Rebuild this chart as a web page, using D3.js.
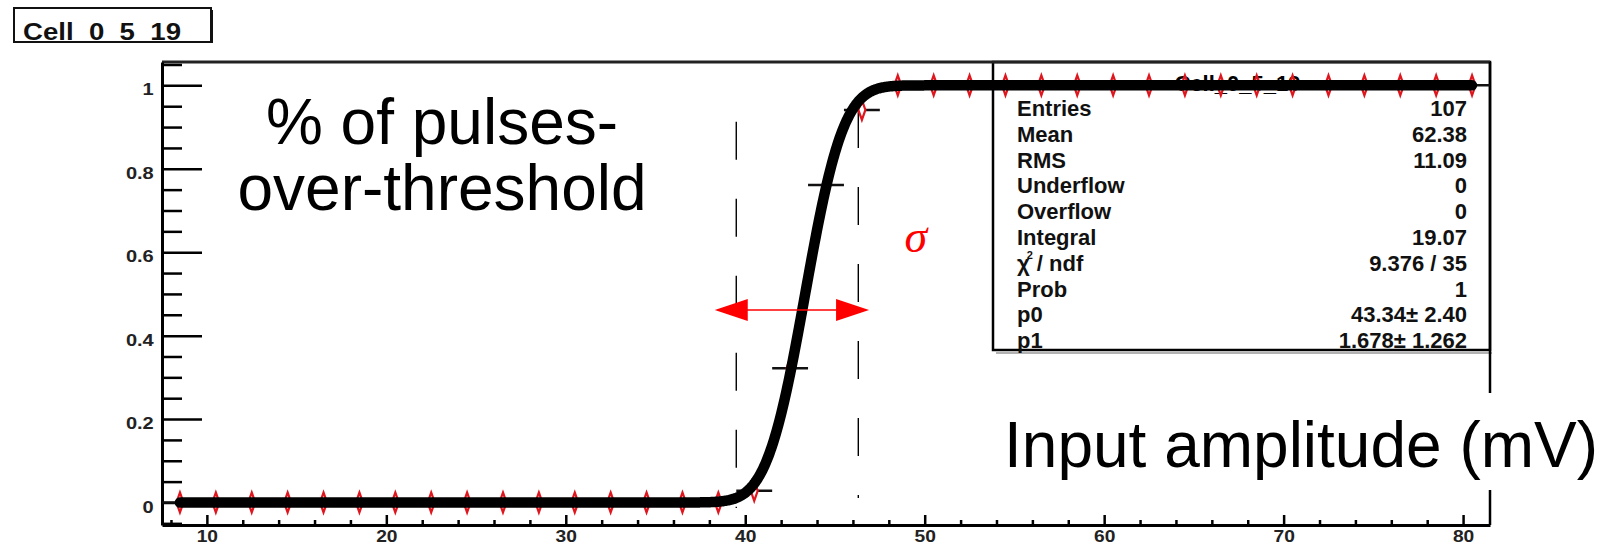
<!DOCTYPE html>
<html>
<head>
<meta charset="utf-8">
<script src="https://cdn.jsdelivr.net/npm/d3@7"></script>
<style>
  html, body { margin: 0; padding: 0; background: #fff; }
  svg { display: block; }
</style>
</head>
<body>
<svg id="chart" width="1605" height="546"></svg>
<script>
// ---- data ----
const histTitle = "Cell_0_5_19";
const binCenters = [8.5, 10.5, 12.5, 14.5, 16.5, 18.5, 20.5, 22.5, 24.5, 26.5, 28.5, 30.5,
  32.5, 34.5, 36.5, 38.5, 40.5, 42.5, 44.5, 46.5, 48.5, 50.5, 52.5, 54.5, 56.5, 58.5,
  60.5, 62.5, 64.5, 66.5, 68.5, 70.5, 72.5, 74.5, 76.5, 78.5, 80.5];
const efficiency = [0, 0, 0, 0, 0, 0, 0, 0, 0, 0, 0, 0, 0, 0, 0, 0,
  0.028, 0.322, 0.761, 0.941,
  1, 1, 1, 1, 1, 1, 1, 1, 1, 1, 1, 1, 1, 1, 1, 1, 1];
const binHalfWidth = 1;
const fitParams = [43.34, 1.678];           // p0 = threshold, p1 = sigma (erf fit)
const xMajorTicks = [10, 20, 30, 40, 50, 60, 70, 80];
const xMinorTicks = [8, 12, 14, 16, 18, 22, 24, 26, 28, 32, 34, 36, 38, 42, 44, 46, 48,
  52, 54, 56, 58, 62, 64, 66, 68, 72, 74, 76, 78];
const yMajorTicks = [0, 0.2, 0.4, 0.6, 0.8, 1];
const yTickLabels = ["0", "0.2", "0.4", "0.6", "0.8", "1"];
const yMinorTicks = [-0.05, 0.05, 0.1, 0.15, 0.25, 0.3, 0.35, 0.45, 0.5, 0.55, 0.65, 0.7,
  0.75, 0.85, 0.9, 0.95, 1.05];
const statNames = ["Entries", "Mean", "RMS", "Underflow", "Overflow", "Integral",
  "chi2", "Prob", "p0", "p1"];
const statValues = ["107", "62.38", "11.09", "0", "0", "19.07", "9.376 / 35", "1",
  "43.34\u00b1 2.40", "1.678\u00b1 1.262"];
const widthMarkers = [39.5, 46.3];          // dashed guides around the turn-on
const sigmaArrowEnds = [38.3, 46.9];
const sigmaArrowLevel = 0.4616;
const yTitleLines = ["% of pulses-", "over-threshold"];
const xTitleText = "Input amplitude (mV)";

// ---- layout ----
const svg = d3.select("#chart");
const x = d3.scaleLinear().domain([7.5, 81.5]).range([162, 1490]);
const y = d3.scaleLinear().domain([-0.054, 1.056]).range([525, 62]);
const sans = "'Liberation Sans', Arial, Helvetica, sans-serif";

function erf(z) {
  const t = 1 / (1 + 0.3275911 * Math.abs(z));
  const r = 1 - (((((1.061405429 * t - 1.453152027) * t) + 1.421413741) * t
    - 0.284496736) * t + 0.254829592) * t * Math.exp(-z * z);
  return z >= 0 ? r : -r;
}
const fitFn = v => 0.5 * (1 + erf((v - fitParams[0]) / (fitParams[1] * Math.SQRT2)));

// stats box (drawn first; the fit curve crosses its header)
const box = { x0: 993, y0: 62, x1: 1490, y1: 350 };
svg.append("line").attr("x1", box.x0 + 3).attr("x2", box.x1 + 2)
  .attr("y1", box.y1 + 3).attr("y2", box.y1 + 3)
  .attr("stroke", "#999").attr("stroke-width", 1.5);
svg.append("rect").attr("x", box.x0).attr("y", box.y0)
  .attr("width", box.x1 - box.x0).attr("height", box.y1 - box.y0)
  .attr("fill", "#fff").attr("stroke", "#000").attr("stroke-width", 2.5);
svg.append("text").attr("x", (box.x0 + box.x1) / 2 - 4).attr("y", 91)
  .attr("text-anchor", "middle").attr("font-family", sans).attr("font-weight", "bold")
  .attr("font-size", 22).text(histTitle);

const rowY = i => 116 + i * 25.8;
const rows = svg.append("g").attr("font-family", sans).attr("font-weight", "bold")
  .attr("font-size", 22).attr("fill", "#111");
statNames.forEach((name, i) => {
  const t = rows.append("text").attr("x", 1017).attr("y", rowY(i));
  if (name === "chi2") {
    t.append("tspan").text("\u03c7");
    t.append("tspan").attr("font-size", 11).attr("dx", -3).attr("dy", -12).text("2");
    t.append("tspan").attr("dy", 12).attr("dx", 4).text("/ ndf");
  } else {
    t.text(name);
  }
  rows.append("text").attr("x", 1467).attr("y", rowY(i)).attr("text-anchor", "end")
    .text(statValues[i]);
});

// frame top and right edges
svg.append("line").attr("x1", x(7.5)).attr("x2", x(81.5)).attr("y1", y.range()[1]).attr("y2", y.range()[1])
  .attr("stroke", "#222").attr("stroke-width", 3);
svg.append("line").attr("x1", x(81.5)).attr("x2", x(81.5)).attr("y1", y.range()[1]).attr("y2", y.range()[0])
  .attr("stroke", "#000").attr("stroke-width", 2.5);

// axes
const styleAxis = g => {
  g.selectAll(".domain").attr("stroke", "#000").attr("stroke-width", 3);
  g.selectAll(".tick line").attr("stroke", "#000").attr("stroke-width", 2.5);
};
const gx = svg.append("g").attr("transform", `translate(0,${y.range()[0]})`)
  .call(d3.axisBottom(x).tickValues(xMajorTicks).tickSizeInner(-10).tickSizeOuter(0)
    .tickPadding(6).tickFormat(d3.format("d")));
svg.append("g").attr("transform", `translate(0,${y.range()[0]})`)
  .call(d3.axisBottom(x).tickValues(xMinorTicks).tickSizeInner(-5).tickSizeOuter(0)
    .tickFormat(""))
  .call(g => g.select(".domain").remove())
  .call(styleAxis);
gx.call(styleAxis);
gx.selectAll("text").attr("font-family", sans).attr("font-weight", "bold")
  .attr("font-size", 16).attr("fill", "#222").attr("transform", "scale(1.2,1)");

const gy = svg.append("g").attr("transform", `translate(${x(7.5)},0)`)
  .call(d3.axisLeft(y).tickValues(yMajorTicks).tickSizeInner(-40).tickSizeOuter(0)
    .tickPadding(7).tickFormat((d, i) => yTickLabels[i]));
svg.append("g").attr("transform", `translate(${x(7.5)},0)`)
  .call(d3.axisLeft(y).tickValues(yMinorTicks).tickSizeInner(-20).tickSizeOuter(0)
    .tickFormat(""))
  .call(g => g.select(".domain").remove())
  .call(styleAxis);
gy.call(styleAxis);
gy.selectAll("text").attr("font-family", sans).attr("font-weight", "bold")
  .attr("font-size", 17).attr("fill", "#222").attr("dy", "0.56em")
  .attr("transform", "scale(1.18,1)");

// dashed guides
const guideSpans = [[0.913, -0.013], [0.941, 0.011]];
widthMarkers.forEach((v, i) => {
  svg.append("line").attr("x1", x(v)).attr("x2", x(v))
    .attr("y1", y(guideSpans[i][0])).attr("y2", y(guideSpans[i][1]))
    .attr("stroke", "#000").attr("stroke-width", 1.4).attr("stroke-dasharray", "38 39");
});

// points: horizontal bin-width bars and open red diamonds
const pts = binCenters.map((c, i) => ({ c, v: efficiency[i] }));
svg.append("g").selectAll("line").data(pts).join("line")
  .attr("x1", d => x(d.c - binHalfWidth)).attr("x2", d => x(d.c + binHalfWidth))
  .attr("y1", d => y(d.v)).attr("y2", d => y(d.v))
  .attr("stroke", "#111").attr("stroke-width", 2.5);
const diamond = "M0,-10L3.5,0L0,10L-3.5,0Z";
svg.append("g").selectAll("path").data(pts).join("path")
  .attr("d", diamond).attr("transform", d => `translate(${x(d.c)},${y(d.v)})`)
  .attr("fill", "#fff").attr("stroke", "#e0161e").attr("stroke-width", 2.2);

// erf fit curve
const curvePts = [];
for (let v = binCenters[0]; v <= binCenters[binCenters.length - 1] + 1e-9; v += 0.05) {
  curvePts.push([v, fitFn(v)]);
}
svg.append("path").datum(curvePts)
  .attr("d", d3.line().x(d => x(d[0])).y(d => y(d[1])))
  .attr("fill", "none").attr("stroke", "#000").attr("stroke-width", 10.5)
  .attr("stroke-linecap", "round").attr("stroke-linejoin", "round");

// sigma arrow
const ay = y(sigmaArrowLevel), aL = x(sigmaArrowEnds[0]), aR = x(sigmaArrowEnds[1]);
const headL = 33, headH = 11;
svg.append("line").attr("x1", aL + 20).attr("x2", aR - 20).attr("y1", ay).attr("y2", ay)
  .attr("stroke", "#ff0000").attr("stroke-width", 1.6);
svg.append("path").attr("d", `M${aL},${ay}L${aL + headL},${ay - headH}L${aL + headL},${ay + headH}Z`)
  .attr("fill", "#ff0000");
svg.append("path").attr("d", `M${aR},${ay}L${aR - headL},${ay - headH}L${aR - headL},${ay + headH}Z`)
  .attr("fill", "#ff0000");
svg.append("text").attr("x", x(49.5)).attr("y", y(0.6)).attr("text-anchor", "middle")
  .attr("font-family", "'Liberation Serif', 'Times New Roman', serif").attr("font-style", "italic")
  .attr("font-size", 46).attr("fill", "#ff0000").text("\u03c3");

// top-left histogram title box
svg.append("rect").attr("x", 14).attr("y", 8).attr("width", 197).attr("height", 34)
  .attr("fill", "#fff").attr("stroke", "#111").attr("stroke-width", 2);
svg.append("line").attr("x1", 212).attr("x2", 212).attr("y1", 10).attr("y2", 43)
  .attr("stroke", "#111").attr("stroke-width", 2);
svg.append("text").attr("x", 23).attr("y", 40.5).attr("font-family", sans)
  .attr("font-weight", "bold").attr("font-size", 23).attr("fill", "#111")
  .attr("transform", "translate(23,0) scale(1.2,1) translate(-23,0)")
  .text(histTitle);

// axis titles
const yTitle = svg.append("text").attr("font-family", sans).attr("font-size", 64)
  .attr("text-anchor", "middle").attr("fill", "#000");
yTitleLines.forEach((s, i) => {
  yTitle.append("tspan").attr("x", 442).attr("y", 144 + i * 66).text(s);
});
svg.append("rect").attr("x", 1003).attr("y", 393).attr("width", 602).attr("height", 97)
  .attr("fill", "#fff");
svg.append("text").attr("x", 1004).attr("y", 467).attr("font-family", sans)
  .attr("font-size", 64).attr("fill", "#000").text(xTitleText);
</script>
</body>
</html>
